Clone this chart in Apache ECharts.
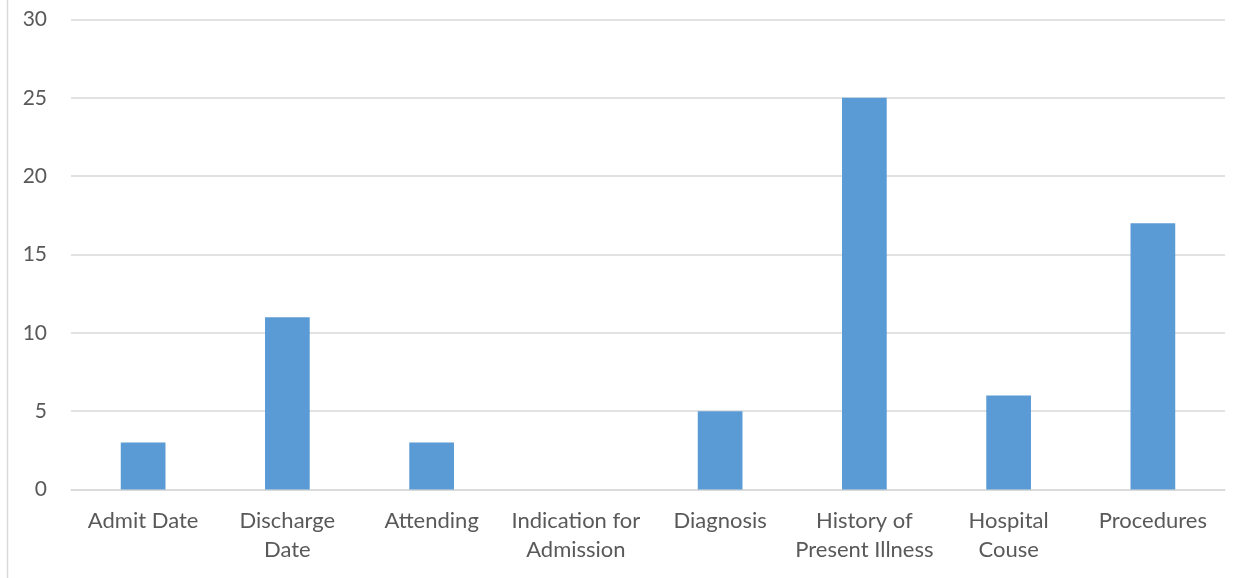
<!DOCTYPE html>
<html>
<head>
<meta charset="utf-8">
<script src="https://cdn.jsdelivr.net/npm/echarts@6/dist/echarts.min.js"></script>
<style>
  html, body { margin: 0; padding: 0; background: #fff; }
  #chart { width: 1253px; height: 578px; }
</style>
</head>
<body>
<div id="chart"></div>
<script>
// Section names (line breaks as they wrap under the axis)
const categories = [
  'Admit Date',
  'Discharge\nDate',
  'Attending',
  'Indication for\nAdmission',
  'Diagnosis',
  'History of\nPresent Illness',
  'Hospital\nCouse',
  'Procedures'
];
// Count per section
const counts = [3, 11, 3, 0, 5, 25, 6, 17];
// Value axis range
const yMin = 0, yMax = 30, yStep = 5;

const chart = echarts.init(document.getElementById('chart'), null, { renderer: 'canvas' });
const font = 'Lato, "Open Sans", sans-serif';

chart.setOption({
  animation: false,
  backgroundColor: '#ffffff',
  grid: { left: 71, right: 28, top: 19.5, bottom: 88.5, containLabel: false },
  xAxis: {
    type: 'category',
    data: categories,
    axisLine: { show: true, lineStyle: { color: '#d9d9d9', width: 1.5 } },
    axisTick: { show: false },
    axisLabel: {
      color: '#595959', fontFamily: font, fontSize: 22,
      lineHeight: 29, margin: 17, interval: 0
    }
  },
  yAxis: {
    type: 'value',
    min: yMin, max: yMax, interval: yStep,
    axisLine: { show: false },
    axisTick: { show: false },
    splitLine: { lineStyle: { color: '#d9d9d9', width: 1.5 } },
    axisLabel: { color: '#595959', fontFamily: font, fontSize: 21, margin: 24 }
  },
  series: [{
    type: 'bar',
    data: counts,
    barWidth: '31%',
    itemStyle: { color: '#5b9bd5' }
  }],
  graphic: [{
    type: 'line',
    shape: { x1: 7.5, y1: 0, x2: 7.5, y2: 578 },
    style: { stroke: '#d9d9d9', lineWidth: 1.5 }
  }]
});
</script>
</body>
</html>
